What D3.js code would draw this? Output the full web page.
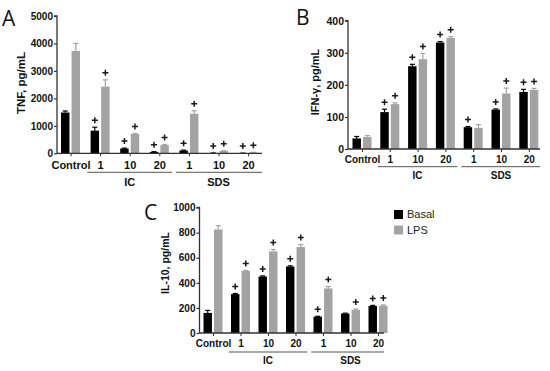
<!DOCTYPE html>
<html><head><meta charset="utf-8">
<script src="https://cdn.jsdelivr.net/npm/d3@7"></script>
<style>
body{margin:0;background:#fff;}
svg{display:block;font-family:"Liberation Sans",Arial,sans-serif;}
</style></head>
<body>
<svg id="c" width="550" height="371"></svg>
<script>
// ---- data ----
const categories = ["Control","IC 1","IC 10","IC 20","SDS 1","SDS 10","SDS 20"];
const tickLabels = ["Control","1","10","20","1","10","20"];
const groups = [{name:"IC", from:1, to:3},{name:"SDS", from:4, to:6}];
const series = ["Basal","LPS"];

const tnfBasal    = [1485, 825, 175, 50, 100, 10, 5];
const tnfBasalErr = [55, 125, 15, 8, 15, 4, 3];
const tnfLPS      = [3730, 2430, 705, 300, 1440, 85, 30];
const tnfLPSErr   = [270, 245, 15, 20, 110, 10, 5];
const tnfPlus     = [[0,1,1,1,1,1,1],[0,1,1,1,1,1,1]];
const tnfTicks    = [0,1000,2000,3000,4000,5000];

const ifnBasal    = [33, 115, 258, 332, 68, 123, 178];
const ifnBasalErr = [6, 9, 6, 3, 2, 2, 8];
const ifnLPS      = [38, 140, 280, 346, 66, 173, 184];
const ifnLPSErr   = [4, 4, 18, 4, 10, 17, 5];
const ifnPlus     = [[0,1,1,1,1,1,1],[0,1,1,1,0,1,1]];
const ifnTicks    = [0,100,200,300,400];

const il10Basal    = [160, 310, 450, 530, 130, 155, 215];
const il10BasalErr = [20, 5, 5, 5, 3, 3, 5];
const il10LPS      = [825, 495, 650, 685, 355, 185, 218];
const il10LPSErr   = [30, 3, 15, 20, 15, 6, 6];
const il10Plus     = [[0,1,1,1,1,0,1],[0,1,1,1,1,1,1]];
const il10Ticks    = [0,200,400,600,800,1000];

const colors = {Basal:"#000000", LPS:"#a3a3a3"};

const svg = d3.select("#c");

function panel(cfg){
  const g = svg.append("g");
  const y = d3.scaleLinear().domain([0, cfg.ymax]).range([cfg.y0, cfg.yTop]);
  const x = d3.scalePoint().domain(categories).range([cfg.c0, cfg.c0 + cfg.step*(categories.length-1)]);
  const xs = d3.scaleBand().domain(series).range([-9.5, 9.5]).paddingInner(0.2);

  const vals = [cfg.basal, cfg.lps], errs = [cfg.basalErr, cfg.lpsErr];
  series.forEach((s, si) => {
    const d = categories.map((c,i) => ({c, v: vals[si][i], e: errs[si][i], p: cfg.plus[si][i]}));
    const cx = d => x(d.c) + xs(s) + xs.bandwidth()/2;
    const sg = g.append("g");
    sg.selectAll("line.e").data(d).join("line")
      .attr("x1", cx).attr("x2", cx)
      .attr("y1", d => y(d.v)).attr("y2", d => y(d.v + d.e))
      .attr("stroke", colors[s]).attr("stroke-width", 1.2);
    sg.selectAll("line.cap").data(d).join("line")
      .attr("x1", d => cx(d) - 2.5).attr("x2", d => cx(d) + 2.5)
      .attr("y1", d => y(d.v + d.e)).attr("y2", d => y(d.v + d.e))
      .attr("stroke", colors[s]).attr("stroke-width", 1.2);
    sg.selectAll("rect").data(d).join("rect")
      .attr("x", d => x(d.c) + xs(s))
      .attr("width", xs.bandwidth())
      .attr("y", d => y(d.v))
      .attr("height", d => cfg.y0 - y(d.v))
      .attr("fill", colors[s]);
    // significance "+" markers
    sg.selectAll("path.plus").data(d.filter(d => d.p)).join("path")
      .attr("d", d => {
        const px = cx(d), py = y(d.v + d.e) - 7;
        return `M${px-3},${py}H${px+3}M${px},${py-3}V${py+3}`;
      })
      .attr("stroke","#1a1a1a").attr("stroke-width",1.5).attr("fill","none");
  });

  const ya = g.append("g").attr("transform", `translate(${cfg.ax},0)`)
    .call(d3.axisLeft(y).tickValues(cfg.ticks).tickSize(3).tickPadding(1).tickFormat(d3.format("d")));
  ya.select(".domain").attr("stroke","#333").attr("stroke-width",1.3).attr("d", `M-3,${cfg.yTop}H0V${cfg.y0}`);
  ya.selectAll(".tick line").attr("stroke","#333").attr("stroke-width",1.2);
  ya.selectAll(".tick text").attr("font-size", cfg.tickFs).attr("font-weight","bold").attr("fill","#111")
    .attr("font-family","Liberation Sans, Arial, sans-serif");

  const xa = g.append("g").attr("transform", `translate(0,${cfg.y0})`)
    .call(d3.axisBottom(x).tickSize(3).tickPadding(cfg.xPad).tickFormat((d,i) => tickLabels[i]));
  xa.select(".domain").attr("stroke","#333").attr("stroke-width",1.3).attr("d", `M${cfg.ax},0H${cfg.xEnd}`);
  xa.selectAll(".tick line").attr("stroke","#333").attr("stroke-width",1);
  xa.selectAll(".tick text").attr("font-size", cfg.xFs).attr("font-weight","bold").attr("fill","#111")
    .attr("font-family","Liberation Sans, Arial, sans-serif");

  groups.forEach(gr => {
    const x1 = x(categories[gr.from]) - cfg.step/2 + 2;
    const x2 = gr.to === categories.length-1 ? cfg.xEnd : x(categories[gr.to]) + cfg.step/2 - 2;
    g.append("line").attr("x1", x1).attr("x2", x2).attr("y1", cfg.lineY).attr("y2", cfg.lineY)
      .attr("stroke","#555").attr("stroke-width",1);
    g.append("text").attr("x", (x(categories[gr.from]) + x(categories[gr.to]))/2)
      .attr("y", cfg.lineY + cfg.grpDy).attr("text-anchor","middle")
      .attr("font-size", cfg.xFs).attr("font-weight","bold").attr("fill","#111").text(gr.name);
  });

  g.append("text").attr("transform", `translate(${cfg.titleX},${cfg.titleY}) rotate(-90)`)
    .attr("text-anchor","middle").attr("dy","0.35em")
    .attr("font-size", cfg.titleFs).attr("font-weight","bold").attr("fill","#111").text(cfg.title);
  g.append("text").attr("x", cfg.letterX).attr("y", cfg.letterY)
    .attr("font-size", 21).attr("fill","#111").attr("font-family","Open Sans, Liberation Sans, sans-serif")
    .text(cfg.letter);
}

panel({letter:"A", letterX:2, letterY:26, title:"TNF, pg/mL", titleX:20.5, titleY:83, titleFs:11.5,
  ymax:5000, ticks:tnfTicks, y0:153.3, yTop:16, ax:57, xEnd:262, c0:70.5, step:29.6,
  basal:tnfBasal, basalErr:tnfBasalErr, lps:tnfLPS, lpsErr:tnfLPSErr, plus:tnfPlus,
  tickFs:10, xFs:11, xPad:5, lineY:172.3, grpDy:13.5});

panel({letter:"B", letterX:296, letterY:25, title:"IFN-γ, pg/mL", titleX:315.5, titleY:82, titleFs:11,
  ymax:400, ticks:ifnTicks, y0:149, yTop:20.7, ax:348, xEnd:540, c0:362, step:27.8,
  basal:ifnBasal, basalErr:ifnBasalErr, lps:ifnLPS, lpsErr:ifnLPSErr, plus:ifnPlus,
  tickFs:10.5, xFs:10, xPad:3.5, lineY:166.7, grpDy:12.5});

panel({letter:"C", letterX:144, letterY:220, title:"IL-10, pg/mL", titleX:165, titleY:263, titleFs:10.5,
  ymax:1000, ticks:il10Ticks, y0:333, yTop:207.5, ax:199.5, xEnd:384, c0:213, step:27.5,
  basal:il10Basal, basalErr:il10BasalErr, lps:il10LPS, lpsErr:il10LPSErr, plus:il10Plus,
  tickFs:10, xFs:10, xPad:3.5, lineY:352, grpDy:11.5});

const leg = svg.append("g").attr("transform","translate(394,210)");
series.forEach((s,i) => {
  leg.append("rect").attr("x",0).attr("y", i*15.5).attr("width",9).attr("height",9).attr("fill", colors[s]);
  leg.append("text").attr("x",13).attr("y", i*15.5 + 4.5).attr("dy","0.35em")
    .attr("font-size",11).attr("fill","#222").text(s);
});
</script>
</body></html>
